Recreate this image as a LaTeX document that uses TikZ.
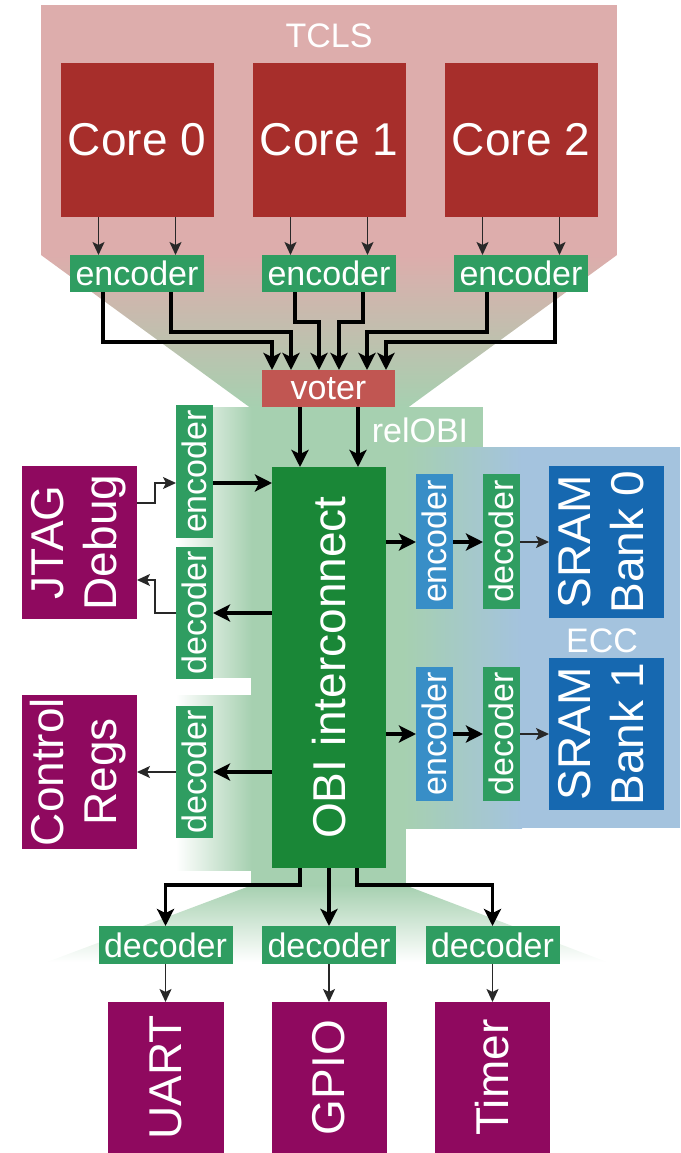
\documentclass[tikz,border=0pt]{standalone}
\usepackage{fontspec}
\usepackage{graphicx}
\setmainfont{Liberation Sans}
\usetikzlibrary{arrows.meta,calc}

\definecolor{tclspink}{RGB}{221,173,172}
\definecolor{corered}{RGB}{167,46,43}
\definecolor{voterred}{RGB}{193,86,82}
\definecolor{codegreen}{RGB}{47,157,97}
\definecolor{obigreen}{RGB}{26,135,55}
\definecolor{relgreen}{RGB}{166,208,176}
\definecolor{eccblue}{RGB}{164,195,222}
\definecolor{encblue}{RGB}{56,142,199}
\definecolor{sramblue}{RGB}{22,104,176}
\definecolor{periph}{RGB}{143,9,95}
\definecolor{wiregray}{RGB}{40,40,40}

% text rotated to read upwards, several lines allowed
\newcommand{\uprot}[1]{\rotatebox{90}{\begin{tabular}{@{}c@{}}#1\end{tabular}}}
\newcommand{\upone}[1]{\rotatebox{90}{#1}}

\tikzset{
  bigfont/.style={font=\fontsize{46}{53}\selectfont},
  smallfont/.style={font=\fontsize{34}{40}\selectfont},
  blk/.style={draw=none, text=white, inner sep=0pt, outer sep=0pt, align=center},
  corebox/.style={blk, bigfont, fill=corered, minimum width=153pt, minimum height=154pt},
  hcode/.style={blk, smallfont, fill=codegreen, minimum width=134pt, minimum height=37pt},
  vcode/.style={blk, smallfont, fill=codegreen, minimum width=37pt},
  vcodeblue/.style={blk, smallfont, fill=encblue, minimum width=37pt},
  voterbox/.style={blk, smallfont, fill=voterred, minimum width=133pt, minimum height=37pt},
  obibox/.style={blk, bigfont, fill=obigreen, minimum width=114pt, minimum height=401pt},
  periphbox/.style={blk, bigfont, fill=periph, minimum width=115pt},
  srambox/.style={blk, bigfont, fill=sramblue, minimum width=115pt, minimum height=152pt},
  regionlabel/.style={text=white, smallfont, inner sep=0pt, anchor=base},
  bus/.style={line width=3.8pt, draw=black, -{Stealth[length=17pt,width=17pt,inset=4pt]}},
  wire/.style={line width=1.6pt, draw=wiregray, -{Stealth[length=13pt,width=12pt,inset=3pt]}},
}

\begin{document}
\begin{tikzpicture}[x=1pt, y=-1pt]
\useasboundingbox (0,0) rectangle (680,1153);

% ---------- background regions ----------
% TCLS area and its funnel towards the voter
\fill[tclspink] (41,5) rectangle (617,255);
\shade[top color=tclspink, bottom color=relgreen]
  (41,255) -- (617,255) -- (408,407.5) -- (250,407.5) -- cycle;
% relOBI column with its label tab
\fill[relgreen] (251,407) rectangle (406,886);
\fill[relgreen] (251,407) rectangle (483,447);
% fading strips behind the debug and register decoders
\shade[left color=white, right color=relgreen] (176,407) rectangle (251.5,677);
\shade[left color=white, right color=relgreen] (176,695) rectangle (251.5,870);
% ECC memory area
\shade[left color=relgreen, right color=eccblue] (403,447) rectangle (522,828);
\fill[eccblue] (521.5,447) rectangle (680,828);
% fan towards the peripheral decoders
\shade[top color=relgreen, bottom color=white]
  (251,885.5) -- (406,885.5) -- (607,962) -- (47,962) -- cycle;

% ---------- region labels ----------
\node[regionlabel] (tcls) at (329,48) {TCLS};
\node[regionlabel] (relobi) at (420,442) {relOBI};
\node[regionlabel] (ecc) at (602,652) {ECC};

% ---------- cores, encoders, voter ----------
\node[corebox] (core0) at (137,140) {Core 0};
\node[corebox] (core1) at (329,140) {Core 1};
\node[corebox] (core2) at (521,140) {Core 2};

\node[hcode] (enc0) at (137,273.5) {encoder};
\node[hcode] (enc1) at (329,273.5) {encoder};
\node[hcode] (enc2) at (521,273.5) {encoder};

\node[voterbox] (voter) at (328.5,388.5) {voter};

% ---------- interconnect ----------
\node[obibox] (obi) at (329,667.5) {\upone{OBI interconnect}};

% ---------- debug and register side ----------
\node[vcode, minimum height=133pt] (jenc) at (194.5,471.5) {\upone{encoder}};
\node[vcode, minimum height=132pt] (jdec) at (194.5,613) {\upone{decoder}};
\node[vcode, minimum height=132pt] (cdec) at (194.5,772) {\upone{decoder}};
\node[periphbox, minimum height=153pt] (jtag) at (79.5,542.5) {\uprot{JTAG\\Debug}};
\node[periphbox, minimum height=154pt] (ctrl) at (79.5,772) {\uprot{Control\\Regs}};

% ---------- memory side ----------
\node[vcodeblue, minimum height=135pt] (menc0) at (434.5,541.5) {\upone{encoder}};
\node[vcode, minimum height=135pt] (mdec0) at (501.5,541.5) {\upone{decoder}};
\node[srambox] (sram0) at (606.5,542) {\uprot{SRAM\\Bank 0}};
\node[vcodeblue, minimum height=134pt] (menc1) at (434.5,734) {\upone{encoder}};
\node[vcode, minimum height=134pt] (mdec1) at (501.5,734) {\upone{decoder}};
\node[srambox] (sram1) at (606.5,734) {\uprot{SRAM\\Bank 1}};

% ---------- peripherals ----------
\node[hcode, minimum height=38pt] (ud) at (165.5,945) {decoder};
\node[hcode, minimum height=38pt] (gd) at (329,945) {decoder};
\node[hcode, minimum height=38pt] (td) at (492.5,945) {decoder};
\node[periphbox, minimum width=116pt, minimum height=151pt] (uart) at (165.5,1077.5) {\upone{UART}};
\node[periphbox, minimum height=151pt] (gpio) at (329,1077.5) {\upone{GPIO}};
\node[periphbox, minimum height=151pt] (timer) at (492.5,1077.5) {\upone{Timer}};

% ---------- routing helpers ----------
\coordinate (e0a) at (103,0);  \coordinate (e0b) at (171,0);
\coordinate (e1a) at (295,0);  \coordinate (e1b) at (363,0);
\coordinate (e2a) at (487,0);  \coordinate (e2b) at (555,0);
\coordinate (v1) at (272,0);   \coordinate (v2) at (291,0);
\coordinate (v3) at (319,0);   \coordinate (v4) at (339,0);
\coordinate (v5) at (367,0);   \coordinate (v6) at (386,0);
\coordinate (lvlA) at (0,342); \coordinate (lvlB) at (0,332);
\coordinate (lvlC) at (0,322);
\coordinate (oA) at (300,0);   \coordinate (oB) at (358,0);
\coordinate (rowJa) at (0,503); \coordinate (rowJb) at (0,483);
\coordinate (rowJc) at (0,580); \coordinate (rowJd) at (0,613);
\coordinate (rowC) at (0,772);
\coordinate (colJ) at (155,0);
\coordinate (mrow0) at (0,542); \coordinate (mrow1) at (0,734);
\coordinate (bA) at (300,0);   \coordinate (bB) at (357,0);
\coordinate (bLvl) at (0,885);

% ---------- cores to encoders ----------
\foreach \c/\e in {core0/enc0, core1/enc1, core2/enc2}{
  \draw[wire] ([xshift=-38.5pt]\c.south) -- ([xshift=-38.5pt]\e.north);
  \draw[wire] ([xshift=38.5pt]\c.south) -- ([xshift=38.5pt]\e.north);
}

% ---------- encoders to voter ----------
\draw[bus] (e0a |- enc0.south) |- (v1 |- lvlA) -- (v1 |- voter.north);
\draw[bus] (e0b |- enc0.south) |- (v2 |- lvlB) -- (v2 |- voter.north);
\draw[bus] (e1a |- enc1.south) |- (v3 |- lvlC) -- (v3 |- voter.north);
\draw[bus] (e1b |- enc1.south) |- (v4 |- lvlC) -- (v4 |- voter.north);
\draw[bus] (e2a |- enc2.south) |- (v5 |- lvlB) -- (v5 |- voter.north);
\draw[bus] (e2b |- enc2.south) |- (v6 |- lvlA) -- (v6 |- voter.north);

% ---------- voter to interconnect ----------
\draw[bus] (oA |- voter.south) -- (oA |- obi.north);
\draw[bus] (oB |- voter.south) -- (oB |- obi.north);

% ---------- debug and registers ----------
\draw[wire] (jtag.east |- rowJa) -| (colJ |- rowJb) -- (jenc.west |- rowJb);
\draw[bus] (jenc.east |- rowJb) -- (obi.west |- rowJb);
\draw[bus] (obi.west |- rowJd) -- (jdec.east |- rowJd);
\draw[wire] (jdec.west |- rowJd) -| (colJ |- rowJc) -- (jtag.east |- rowJc);
\draw[bus] (obi.west |- rowC) -- (cdec.east |- rowC);
\draw[wire] (cdec.west |- rowC) -- (ctrl.east |- rowC);

% ---------- memory banks ----------
\draw[bus] (obi.east |- mrow0) -- (menc0.west |- mrow0);
\draw[bus] (menc0.east |- mrow0) -- (mdec0.west |- mrow0);
\draw[wire] (mdec0.east |- mrow0) -- (sram0.west |- mrow0);
\draw[bus] (obi.east |- mrow1) -- (menc1.west |- mrow1);
\draw[bus] (menc1.east |- mrow1) -- (mdec1.west |- mrow1);
\draw[wire] (mdec1.east |- mrow1) -- (sram1.west |- mrow1);

% ---------- peripherals ----------
\draw[bus] (bA |- obi.south) |- (ud.north |- bLvl) -- (ud.north);
\draw[bus] (gd.north |- obi.south) -- (gd.north);
\draw[bus] (bB |- obi.south) |- (td.north |- bLvl) -- (td.north);
\draw[wire] (ud.south) -- (uart.north);
\draw[wire] (gd.south) -- (gpio.north);
\draw[wire] (td.south) -- (timer.north);
\end{tikzpicture}
\end{document}
